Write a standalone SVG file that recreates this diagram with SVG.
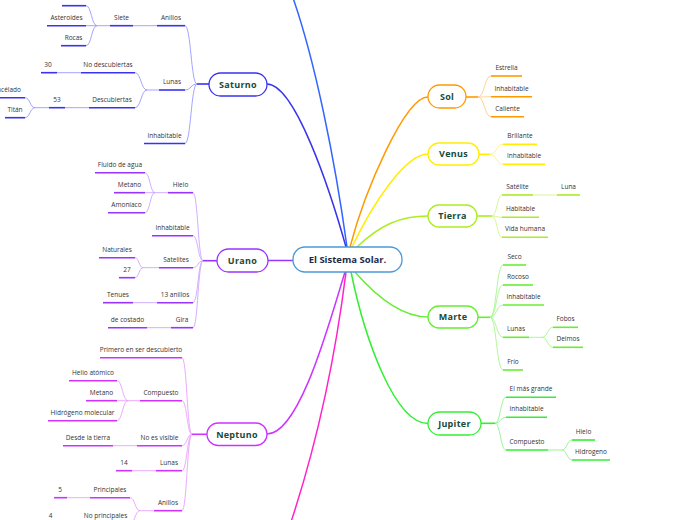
<svg xmlns="http://www.w3.org/2000/svg" width="696" height="520" viewBox="0 0 696 520">
<style>
.t{font-family:"Open Sans","Noto Sans",sans-serif;font-size:6.5px;fill:#333;text-anchor:middle}
.n{font-family:"Open Sans","Noto Sans",sans-serif;font-size:9px;font-weight:bold;fill:#174a3b;text-anchor:middle;letter-spacing:0.3px}
.c{font-family:"Open Sans","Noto Sans",sans-serif;font-size:9.5px;font-weight:bold;fill:#1c2b4b;text-anchor:middle}
.u{fill:none;stroke-width:1.6}
.l{fill:none;stroke-width:0.9}
.m{fill:none;stroke-width:1.5}
.box{fill:#fff;stroke-width:1.3}
.sa{stroke:#3a32f0}.sal{stroke:#9a98ff}
.ur{stroke:#9933ff}.url{stroke:#cca6ff}
.ne{stroke:#cc33ff}.nel{stroke:#eaa0ff}
.so{stroke:#ff9900}.sol{stroke:#ffcc88}
.ve{stroke:#ffee00}.vel{stroke:#fff27a}
.ti{stroke:#aaee22}.til{stroke:#d2f590}
.ma{stroke:#66ee33}.mal{stroke:#a8f590}
.ju{stroke:#33ee33}.jul{stroke:#8ef08e}
</style>
<rect width="696" height="520" fill="#fff"/>
<g id="connectors">
<path class="m" stroke="#3366ff" d="M347,247 C335,160 315,60 292,-5"/>
<path class="m sa" d="M346,247 C330,190 295,84 267,84"/>
<path class="m ur" d="M293,260.5 H268"/>
<path class="m ne" d="M345,272 C330,320 300,434 267,434"/>
<path class="m" stroke="#ff22cc" d="M346,272 C335,360 315,450 290,525"/>
<path class="m so" d="M350,247 C365,190 405,97 428,97"/>
<path class="m ve" d="M352,247 C372,205 405,154 428,154"/>
<path class="m ti" d="M357,247 C380,225 400,216 428,216"/>
<path class="m ma" d="M355,272 C375,295 400,317 428,317"/>
<path class="m ju" d="M351,272 C365,340 395,423.5 428,423.5"/>
<!-- Saturno -->
<path class="u sa" d="M209,84 H197"/>
<path class="l sal" d="M197,84 C191,84 191,25.7 185,25.7 M197,84 C191,84 191,90 185,90 M197,84 C191,84 191,143.5 185,143.5 M157,25.7 H133 M110,25.7 H97 M97,25.7 C91.5,25.7 91.5,5.7 86,5.7 M97,25.7 H86 M97,25.7 C91.5,25.7 91.5,45.7 86,45.7 M159,90 H147 C141,90 141,72.7 135,72.7 M147,90 C141,90 141,107.7 135,107.7 M81,72.7 H57 M89,107.7 H65 M49,107.7 H35 C30,107.7 30,97.7 25,97.7 M35,107.7 C30,107.7 30,117.7 25,117.7"/>
<!-- Urano -->
<path class="u ur" d="M217,260.7 H203"/>
<path class="l url" d="M203,260.7 C198,260.7 198,192.7 193,192.7 M203,260.7 C198,260.7 198,235.7 193,235.7 M203,260.7 C198,260.7 198,267.7 193,267.7 M203,260.7 C198,260.7 198,302.7 193,302.7 M203,260.7 C198,260.7 198,327.7 193,327.7 M168,192.7 H155 C150,192.7 150,172.7 145,172.7 M155,192.7 H145 M155,192.7 C150,192.7 150,212.7 145,212.7 M159,267.7 H143 C139,267.7 139,257.7 135,257.7 M143,267.7 C139,267.7 139,277.7 135,277.7 M157,302.7 H133 M171,327.7 H147"/>
<!-- Neptuno -->
<path class="u ne" d="M207,434.3 H192"/>
<path class="l nel" d="M192,434.3 C187,434.3 187,357.7 182,357.7 M192,434.3 C187,434.3 187,400.7 182,400.7 M192,434.3 C187,434.3 187,445.7 182,445.7 M192,434.3 C187,434.3 187,470.7 182,470.7 M192,434.3 C187,434.3 187,510.7 182,510.7 M140,400.7 H128 C122.5,400.7 122.5,380.7 117,380.7 M128,400.7 H117 M128,400.7 C122.5,400.7 122.5,420.7 117,420.7 M137,445.7 H113 M156,470.7 H132 M154,510.7 H140 C135,510.7 135,497.7 130,497.7 M140,510.7 C135,510.7 135,523.7 130,523.7 M90,497.7 H67 M81,523.7 H57"/>
<!-- Sol -->
<path class="u so" d="M466,97 H478"/>
<path class="l sol" d="M478,97 C484.5,97 484.5,76 491,76 M478,97 C484.5,97 484.5,96.7 491,96.7 M478,97 C484.5,97 484.5,116.7 491,116.7"/>
<!-- Venus -->
<path class="u ve" d="M479,154.3 H490"/>
<path class="l vel" d="M490,154.3 C496.5,154.3 496.5,144.3 503,144.3 M490,154.3 C496.5,154.3 496.5,164.3 503,164.3"/>
<!-- Tierra -->
<path class="u ti" d="M477,216 H492"/>
<path class="l til" d="M492,216 C497,216 497,195 502,195 M492,216 C497,216 497,217.3 502,217.3 M492,216 C497,216 497,237.3 502,237.3 M533,195 H557"/>
<!-- Marte -->
<path class="u ma" d="M478,317.3 H490"/>
<path class="l mal" d="M490,317.3 C496.5,317.3 496.5,265 503,265 M490,317.3 C496.5,317.3 496.5,285 503,285 M490,317.3 C496.5,317.3 496.5,305 503,305 M490,317.3 C496.5,317.3 496.5,337.3 503,337.3 M490,317.3 C496.5,317.3 496.5,370 503,370 M529,337.3 H542 C547.5,337.3 547.5,327.3 553,327.3 M542,337.3 C547.5,337.3 547.5,347.3 553,347.3"/>
<!-- Jupiter -->
<path class="u ju" d="M481,423.3 H495"/>
<path class="l jul" d="M495,423.3 C500.5,423.3 500.5,397.3 506,397.3 M495,423.3 C500.5,423.3 500.5,417.3 506,417.3 M495,423.3 C500.5,423.3 500.5,450 506,450 M548,450 H562 C567,450 567,440 572,440 M562,450 C567,450 567,460 572,460"/>
</g>

<g id="central"><rect class="box" x="293" y="247" width="109" height="25" rx="12" stroke="#4a9ad9"/><text class="c" x="347.5" y="263">El Sistema Solar.</text></g>

<g id="saturno"><rect class="box sa" x="209" y="73" width="58" height="23" rx="11.5"/><text class="n" x="238" y="87.5">Saturno</text></g>
<g id="sat-anillos"><path class="u sa" d="M157,25.7 H185"/><text class="t" x="171" y="19.7">Anillos</text></g>
<g id="sat-siete"><path class="u sa" d="M110,25.7 H133"/><text class="t" x="121.5" y="19.7">Siete</text></g>
<g id="sat-top"><path class="u sa" d="M62,5.7 H86"/></g>
<g id="sat-asteroides"><path class="u sa" d="M47,25.7 H86"/><text class="t" x="66.5" y="19.7">Asteroides</text></g>
<g id="sat-rocas"><path class="u sa" d="M61,45.7 H86"/><text class="t" x="73.5" y="39.7">Rocas</text></g>
<g id="sat-lunas"><path class="u sa" d="M159,90 H185"/><text class="t" x="172" y="84">Lunas</text></g>
<g id="sat-nodesc"><path class="u sa" d="M81,72.7 H135"/><text class="t" x="108" y="66.7">No descubiertas</text></g>
<g id="sat-30"><path class="u sa" d="M41,72.7 H57"/><text class="t" x="48" y="66.7">30</text></g>
<g id="sat-desc"><path class="u sa" d="M89,107.7 H135"/><text class="t" x="112" y="101.7">Descubiertas</text></g>
<g id="sat-53"><path class="u sa" d="M49,107.7 H65"/><text class="t" x="57" y="101.7">53</text></g>
<g id="sat-encelado"><path class="u sa" d="M-10,97.7 H25"/><text class="t" x="21" y="91.7" style="text-anchor:end">Encélado</text></g>
<g id="sat-titan"><path class="u sa" d="M5,117.7 H25"/><text class="t" x="15" y="111.7">Titán</text></g>
<g id="sat-inhab"><path class="u sa" d="M144,143.5 H185"/><text class="t" x="164.5" y="137.5">Inhabitable</text></g>

<g id="urano"><rect class="box ur" x="217" y="249" width="51" height="23" rx="11.5"/><text class="n" x="242.5" y="263.5">Urano</text></g>
<g id="ur-hielo"><path class="u ur" d="M168,192.7 H193"/><text class="t" x="180.5" y="186.7">Hielo</text></g>
<g id="ur-fluido"><path class="u ur" d="M95,172.7 H145"/><text class="t" x="120" y="166.7">Fluido de agua</text></g>
<g id="ur-metano"><path class="u ur" d="M114,192.7 H145"/><text class="t" x="129.5" y="186.7">Metano</text></g>
<g id="ur-amoniaco"><path class="u ur" d="M108,212.7 H145"/><text class="t" x="126.5" y="206.7">Amoníaco</text></g>
<g id="ur-inhab"><path class="u ur" d="M152,235.7 H193"/><text class="t" x="172.5" y="229.7">Inhabitable</text></g>
<g id="ur-satelites"><path class="u ur" d="M159,267.7 H193"/><text class="t" x="176" y="261.7">Satelites</text></g>
<g id="ur-naturales"><path class="u ur" d="M99,257.7 H135"/><text class="t" x="117" y="251.7">Naturales</text></g>
<g id="ur-27"><path class="u ur" d="M119,277.7 H135"/><text class="t" x="127" y="271.7">27</text></g>
<g id="ur-13anillos"><path class="u ur" d="M157,302.7 H193"/><text class="t" x="175" y="296.7">13 anillos</text></g>
<g id="ur-tenues"><path class="u ur" d="M103,302.7 H133"/><text class="t" x="118" y="296.7">Tenues</text></g>
<g id="ur-gira"><path class="u ur" d="M171,327.7 H193"/><text class="t" x="182" y="321.7">Gira</text></g>
<g id="ur-costado"><path class="u ur" d="M108,327.7 H147"/><text class="t" x="127.5" y="321.7">de costado</text></g>

<g id="neptuno"><rect class="box ne" x="207" y="423" width="60" height="22.5" rx="11.25"/><text class="n" x="237" y="437.5">Neptuno</text></g>
<g id="ne-primero"><path class="u ne" d="M100,357.7 H182"/><text class="t" x="141" y="351.7">Primero en ser descubierto</text></g>
<g id="ne-compuesto"><path class="u ne" d="M140,400.7 H182"/><text class="t" x="161" y="394.7">Compuesto</text></g>
<g id="ne-helio"><path class="u ne" d="M69,380.7 H117"/><text class="t" x="93" y="374.7">Helio atómico</text></g>
<g id="ne-metano"><path class="u ne" d="M86,400.7 H117"/><text class="t" x="101.5" y="394.7">Metano</text></g>
<g id="ne-hidrogeno"><path class="u ne" d="M48,420.7 H117"/><text class="t" x="82.5" y="414.7">Hidrógeno molecular</text></g>
<g id="ne-noesvisible"><path class="u ne" d="M137,445.7 H182"/><text class="t" x="159.5" y="439.7">No es visible</text></g>
<g id="ne-desde"><path class="u ne" d="M63,445.7 H113"/><text class="t" x="88" y="439.7">Desde la tierra</text></g>
<g id="ne-lunas"><path class="u ne" d="M156,470.7 H182"/><text class="t" x="169" y="464.7">Lunas</text></g>
<g id="ne-14"><path class="u ne" d="M116,470.7 H132"/><text class="t" x="124" y="464.7">14</text></g>
<g id="ne-anillos"><path class="u ne" d="M154,510.7 H182"/><text class="t" x="168" y="504.7">Anillos</text></g>
<g id="ne-principales"><path class="u ne" d="M90,497.7 H130"/><text class="t" x="110" y="491.7">Principales</text></g>
<g id="ne-5"><path class="u ne" d="M54,497.7 H67"/><text class="t" x="60" y="491.7">5</text></g>
<g id="ne-noprincipales"><path class="u ne" d="M81,523.7 H130"/><text class="t" x="105.5" y="517.7">No principales</text></g>
<g id="ne-4"><path class="u ne" d="M45,523.7 H57"/><text class="t" x="50.5" y="517.7">4</text></g>

<g id="sol"><rect class="box so" x="428" y="85" width="38" height="23" rx="11.5"/><text class="n" x="447" y="99.5">Sol</text></g>
<g id="sol-estrella"><path class="u so" d="M491,76 H522"/><text class="t" x="506.5" y="70">Estrella</text></g>
<g id="sol-inhab"><path class="u so" d="M491,96.7 H532"/><text class="t" x="511.5" y="90.7">Inhabitable</text></g>
<g id="sol-caliente"><path class="u so" d="M491,116.7 H524"/><text class="t" x="507.5" y="110.7">Caliente</text></g>

<g id="venus"><rect class="box ve" x="428" y="143" width="51" height="22" rx="11"/><text class="n" x="453.5" y="157">Venus</text></g>
<g id="ve-brillante"><path class="u ve" d="M503,144.3 H537"/><text class="t" x="520" y="138.3">Brillante</text></g>
<g id="ve-inhab"><path class="u ve" d="M503,164.3 H545"/><text class="t" x="524" y="158.3">Inhabitable</text></g>

<g id="tierra"><rect class="box ti" x="428" y="205" width="49" height="22" rx="11"/><text class="n" x="452.5" y="219">Tierra</text></g>
<g id="ti-satelite"><path class="u ti" d="M502,195 H533"/><text class="t" x="517.5" y="189">Satélite</text></g>
<g id="ti-luna"><path class="u ti" d="M557,195 H580"/><text class="t" x="568.5" y="189">Luna</text></g>
<g id="ti-habitable"><path class="u ti" d="M502,217.3 H539"/><text class="t" x="520.5" y="211.3">Habitable</text></g>
<g id="ti-vida"><path class="u ti" d="M502,237.3 H548"/><text class="t" x="525" y="231.3">Vida humana</text></g>

<g id="marte"><rect class="box ma" x="428" y="306" width="50" height="22" rx="11"/><text class="n" x="453" y="320">Marte</text></g>
<g id="ma-seco"><path class="u ma" d="M503,265 H526"/><text class="t" x="514.5" y="259">Seco</text></g>
<g id="ma-rocoso"><path class="u ma" d="M503,285 H533"/><text class="t" x="518" y="279">Rocoso</text></g>
<g id="ma-inhab"><path class="u ma" d="M503,305 H544"/><text class="t" x="523.5" y="299">Inhabitable</text></g>
<g id="ma-lunas"><path class="u ma" d="M503,337.3 H529"/><text class="t" x="516" y="331.3">Lunas</text></g>
<g id="ma-fobos"><path class="u ma" d="M553,327.3 H578"/><text class="t" x="565.5" y="321.3">Fobos</text></g>
<g id="ma-deimos"><path class="u ma" d="M553,347.3 H583"/><text class="t" x="568" y="341.3">Deimos</text></g>
<g id="ma-frio"><path class="u ma" d="M503,370 H523"/><text class="t" x="513" y="364">Frío</text></g>

<g id="jupiter"><rect class="box ju" x="428" y="412" width="53" height="23" rx="11.5"/><text class="n" x="454.5" y="426.5">Jupiter</text></g>
<g id="ju-grande"><path class="u ju" d="M506,397.3 H556"/><text class="t" x="531" y="391.3">El más grande</text></g>
<g id="ju-inhab"><path class="u ju" d="M506,417.3 H547"/><text class="t" x="526.5" y="411.3">Inhabitable</text></g>
<g id="ju-compuesto"><path class="u ju" d="M506,450 H548"/><text class="t" x="527" y="444">Compuesto</text></g>
<g id="ju-hielo"><path class="u ju" d="M572,440 H595"/><text class="t" x="583.5" y="434">Hielo</text></g>
<g id="ju-hidrogeno"><path class="u ju" d="M572,460 H610"/><text class="t" x="591" y="454">Hidrogeno</text></g>
</svg>
